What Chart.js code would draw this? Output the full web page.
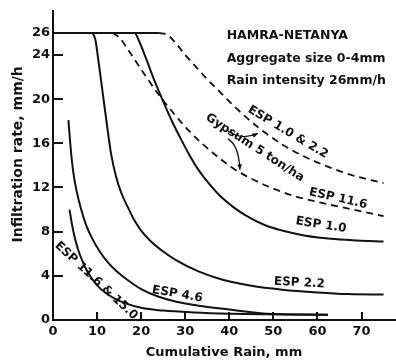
<!DOCTYPE html>
<html><head><meta charset="utf-8">
<script src="https://cdn.jsdelivr.net/npm/chart.js@4/dist/chart.umd.min.js"></script>
<style>html,body{margin:0;padding:0;background:#fff}</style>
</head><body>
<canvas id="c" width="396" height="363"></canvas>
<script>
// ---- data ----
const xTicks = [0, 10, 20, 30, 40, 50, 60, 70];
const yTicks = [0, 4, 8, 12, 16, 20, 24, 26];

const plateauX = [0, 24];
const plateauY = [26, 26];

const esp22X = [0, 8.7, 9.6, 10.3, 11.3, 12.3, 13.2, 14.3, 15.5, 17, 18.5, 20, 22, 25, 28, 33, 38.5, 45, 52, 60, 67, 75];
const esp22Y = [26, 26, 25.4, 23.5, 20.5, 17.5, 15.0, 13.0, 11.5, 10.2, 9.0, 8.1, 7.2, 6.2, 5.4, 4.4, 3.65, 3.1, 2.75, 2.5, 2.35, 2.3];

const esp10X = [0, 18.5, 19.6, 21, 23, 25, 27, 29, 31, 33, 35.5, 38, 41, 44, 48, 52, 57, 63, 69, 75];
const esp10Y = [26, 26, 25.2, 23.8, 21.7, 19.8, 18.0, 16.4, 14.9, 13.6, 12.3, 11.2, 10.2, 9.4, 8.6, 8.1, 7.65, 7.35, 7.2, 7.1];

const gypX = [13.5, 15, 16.5, 18.5, 21, 24, 27, 30, 33.5, 37, 41, 45, 50, 55, 61, 68, 75];
const gypY = [26, 25.6, 24.8, 23.6, 22.1, 20.4, 18.9, 17.5, 16.1, 14.9, 13.7, 12.8, 11.9, 11.2, 10.6, 10.0, 9.4];

const esp1022X = [24, 26, 28, 30, 32.5, 35, 38, 41, 44, 48, 52, 56, 61, 68, 75];
const esp1022Y = [26, 25.8, 25.0, 24.0, 22.9, 21.8, 20.6, 19.4, 18.3, 17.0, 15.9, 15.0, 14.1, 13.1, 12.4];

const esp46X = [3.5, 4.0, 4.6, 5.4, 6.4, 7.6, 9.0, 10.6, 12.5, 14.5, 17, 20, 24, 28, 33, 40, 47, 55, 62.4];
const esp46Y = [18.1, 15.6, 13.4, 11.6, 10.0, 8.5, 7.3, 6.2, 5.2, 4.4, 3.6, 2.8, 2.1, 1.65, 1.3, 0.95, 0.62, 0.5, 0.48];

const esp116X = [3.75, 4.2, 4.8, 5.6, 6.6, 7.8, 9.2, 11, 13.5, 16.5, 20, 25, 32, 40, 48, 55, 62.4];
const esp116Y = [10.0, 8.9, 7.7, 6.5, 5.4, 4.4, 3.55, 2.75, 2.05, 1.5, 1.1, 0.85, 0.68, 0.57, 0.52, 0.5, 0.48];

// ---- labels (text + anchor in data units) ----
const yTitle = 'Infiltration rate, mm/h';
const xTitle = 'Cumulative Rain, mm';
const headerLines = ['HAMRA-NETANYA', 'Aggregate size 0-4mm', 'Rain intensity 26mm/h'];
const curveLabels = [
  {text: 'ESP 1.0 & 2.2', x: 53.3, y: 17.0, rot: 31},
  {text: 'Gypsum 5 ton/ha', x: 45.8, y: 15.6, rot: 33},
  {text: 'ESP 11.6', x: 64.7, y: 11.0, rot: 13},
  {text: 'ESP 1.0', x: 60.8, y: 8.6, rot: 9},
  {text: 'ESP 2.2', x: 55.9, y: 3.36, rot: 3},
  {text: 'ESP 4.6', x: 28.2, y: 2.33, rot: 10},
  {text: 'ESP 11.6 & 15.0', x: 9.8, y: 3.55, rot: 43}
];

const FONT = "'DejaVu Sans', sans-serif";
const INK = '#111';

function pts(xs, ys) { return xs.map((x, i) => ({x: x, y: ys[i]})); }
function solid(xs, ys) {
  return {data: pts(xs, ys), borderColor: INK, borderWidth: 2, pointRadius: 0,
          cubicInterpolationMode: 'monotone', fill: false};
}
function dashed(xs, ys) {
  const d = solid(xs, ys); d.borderDash = [7, 5]; d.borderWidth = 1.8; return d;
}

const decor = {
  id: 'decor',
  afterDatasetsDraw(chart) {
    const ctx = chart.ctx, xs = chart.scales.x, ys = chart.scales.y, a = chart.chartArea;
    ctx.save();
    ctx.strokeStyle = INK; ctx.fillStyle = INK; ctx.lineWidth = 2;
    // inward tick marks
    yTicks.forEach(v => {
      if (v <= 0) return;
      const p = Math.round(ys.getPixelForValue(v));
      ctx.beginPath(); ctx.moveTo(a.left, p); ctx.lineTo(a.left + 10, p); ctx.stroke();
    });
    xTicks.forEach(v => {
      if (v <= 0) return;
      const p = Math.round(xs.getPixelForValue(v));
      ctx.beginPath(); ctx.moveTo(p, a.bottom); ctx.lineTo(p, a.bottom - 8); ctx.stroke();
    });
    // y title
    ctx.save();
    ctx.font = "bold 14px " + FONT;
    ctx.textAlign = 'center'; ctx.textBaseline = 'middle';
    ctx.translate(18, ys.getPixelForValue(15));
    ctx.rotate(-Math.PI / 2);
    ctx.fillText(yTitle, 0, 0);
    ctx.restore();
    // header
    ctx.font = "bold 12.5px " + FONT;
    ctx.textAlign = 'left'; ctx.textBaseline = 'middle';
    const hx = xs.getPixelForValue(39.4);
    [25.7, 23.7, 21.7].forEach((yv, i) => ctx.fillText(headerLines[i], hx, ys.getPixelForValue(yv)));
    // curve labels
    ctx.font = "bold 12px " + FONT;
    ctx.textAlign = 'center';
    curveLabels.forEach(l => {
      ctx.save();
      ctx.translate(xs.getPixelForValue(l.x), ys.getPixelForValue(l.y));
      ctx.rotate(l.rot * Math.PI / 180);
      ctx.fillText(l.text, 0, 0);
      ctx.restore();
    });
    // arrows from "Gypsum"
    ctx.lineWidth = 1.3;
    function arrow(x0, y0, cx, cy, x1, y1) {
      const P = (xv, yv) => [xs.getPixelForValue(xv), ys.getPixelForValue(yv)];
      const s = P(x0, y0), c = P(cx, cy), e = P(x1, y1);
      ctx.beginPath(); ctx.moveTo(s[0], s[1]); ctx.quadraticCurveTo(c[0], c[1], e[0], e[1]); ctx.stroke();
      const ang = Math.atan2(e[1] - c[1], e[0] - c[0]);
      ctx.beginPath();
      ctx.moveTo(e[0], e[1]);
      ctx.lineTo(e[0] - 6 * Math.cos(ang - 0.4), e[1] - 6 * Math.sin(ang - 0.4));
      ctx.lineTo(e[0] - 6 * Math.cos(ang + 0.4), e[1] - 6 * Math.sin(ang + 0.4));
      ctx.closePath(); ctx.fill();
    }
    arrow(39.4, 17.2, 42.5, 16.2, 46.5, 16.9);
    arrow(39.7, 16.4, 42.2, 15.8, 42.4, 13.6);
    ctx.restore();
  }
};

new Chart(document.getElementById('c'), {
  type: 'line',
  data: {datasets: [
    solid(plateauX, plateauY),
    solid(esp22X, esp22Y),
    solid(esp10X, esp10Y),
    dashed(gypX, gypY),
    dashed(esp1022X, esp1022Y),
    solid(esp46X, esp46Y),
    solid(esp116X, esp116Y)
  ]},
  options: {
    responsive: false, animation: false, devicePixelRatio: 1,
    layout: {padding: {top: 7, right: 1, left: 0, bottom: 0}},
    plugins: {legend: {display: false}, tooltip: {enabled: false}},
    scales: {
      x: {
        type: 'linear', min: 0, max: 77.6,
        grid: {display: false, drawTicks: false},
        border: {display: true, color: INK, width: 2},
        ticks: {font: {family: FONT, size: 13, weight: 'bold'}, color: INK, padding: 4, maxRotation: 0},
        afterBuildTicks: s => { s.ticks = xTicks.map(v => ({value: v})); },
        afterFit: s => { s.height = 43; },
        title: {display: true, text: xTitle, color: INK,
                font: {family: FONT, size: 13, weight: 'bold'}, padding: {top: 0, bottom: 3}}
      },
      y: {
        type: 'linear', min: 0, max: 28,
        grid: {display: false, drawTicks: false},
        border: {display: true, color: INK, width: 2},
        ticks: {font: {family: FONT, size: 13, weight: 'bold'}, color: INK, padding: 3},
        afterBuildTicks: s => { s.ticks = yTicks.map(v => ({value: v})); },
        afterFit: s => { s.width = 53; },
        title: {display: false}
      }
    }
  },
  plugins: [decor]
});
</script>
</body></html>
